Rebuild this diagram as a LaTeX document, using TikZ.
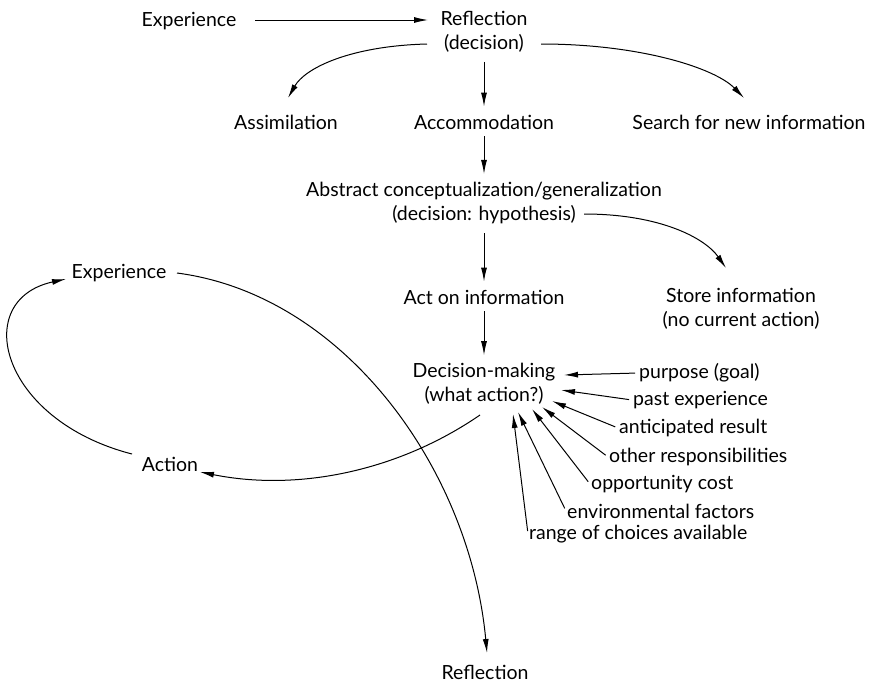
\documentclass[tikz,border=0pt]{standalone}
\usepackage{fontspec}
\setmainfont{Lato}
\usetikzlibrary{arrows.meta}
\begin{document}
\begin{tikzpicture}[x=1pt,y=-1pt,
  lbl/.style={inner sep=1pt,font=\fontsize{19.5}{24}\selectfont,align=center},
  inp/.style={lbl,anchor=west},
  conn/.style={line width=1pt,-{Latex[length=14pt,width=6pt]}},
  plain/.style={line width=1pt}]
\useasboundingbox (0,0) rectangle (869,683);
\node[lbl] (exp1) at (189,21) {Experience};
\node[lbl] (refl) at (484,32) {Reflection\\(decision)};
\node[lbl] (assim) at (286,122) {Assimilation};
\node[lbl] (accom) at (484,122) {Accommodation};
\node[lbl] (search) at (749,122) {Search for new information};
\node[lbl] (abs) at (484,203) {Abstract conceptualization/generalization\\(decision: hypothesis)};
\node[lbl] (act) at (484,297) {Act on information};
\node[lbl] (store) at (741,309) {Store information\\(no current action)};
\node[lbl] (dm) at (484,384) {Decision-making\\(what action?)};
\node[lbl] (exp2) at (119,273) {Experience};
\node[lbl] (action) at (170,464) {Action};
\node[lbl] (refl2) at (485,672) {Reflection};
\node[inp] (i1) at (638,373) {purpose (goal)};
\node[inp] (i2) at (632,400) {past experience};
\node[inp] (i3) at (618,428) {anticipated result};
\node[inp] (i4) at (608,457) {other responsibilities};
\node[inp] (i5) at (590,484) {opportunity cost};
\node[inp] (i6) at (566,511) {environmental factors};
\node[inp] (i7) at (528,534) {range of choices available};
\coordinate (t1) at (564,375);
\coordinate (t2) at (561,390);
\coordinate (t3) at (552,401);
\coordinate (t4) at (542,407);
\coordinate (t5) at (532,409);
\coordinate (t6) at (518,412);
\coordinate (t7) at (513,414);
\coordinate (s0) at (255,20);
\coordinate (e0) at (428,20);
\coordinate (s1) at (427,44);
\coordinate (s2) at (541,44);
\coordinate (s3) at (584,214);
\coordinate (s4) at (480,415);
\coordinate (s5) at (132,454);
\coordinate (s6) at (177,273);
\coordinate (e1) at (288,98);
\coordinate (e2) at (744,98);
\coordinate (e3) at (726,268);
\coordinate (e4) at (200,472);
\coordinate (e5) at (66,279);
\coordinate (e6) at (487,653);

\draw[conn] (s0) -- (e0);
\draw[conn] ([yshift=-8pt]refl.south) -- ([yshift=7pt]accom.north);
\draw[conn] ([yshift=-6pt]accom.south) -- ([yshift=7pt]abs.north);
\draw[conn] ([yshift=-8pt]abs.south) -- ([yshift=7pt]act.north);
\draw[conn] ([yshift=-6pt]act.south) -- ([yshift=7pt]dm.north);
\draw[conn] (s1) .. controls (350,46) and (305,68) .. (e1);
\draw[conn] (s2) .. controls (640,44) and (715,68) .. (e2);
\draw[conn] (s3) .. controls (660,214) and (705,238) .. (e3);
\draw[conn] (s4) .. controls (400,470) and (300,492) .. (e4);
\draw[conn] (s5) .. controls (0,420) and (-30,300) .. (e5);
\draw[conn] (s6) .. controls (345,295) and (470,470) .. (e6);
\foreach \i in {1,...,7}{\draw[conn,shorten <=3pt] (i\i.west) -- (t\i);}
\end{tikzpicture}
\end{document}
